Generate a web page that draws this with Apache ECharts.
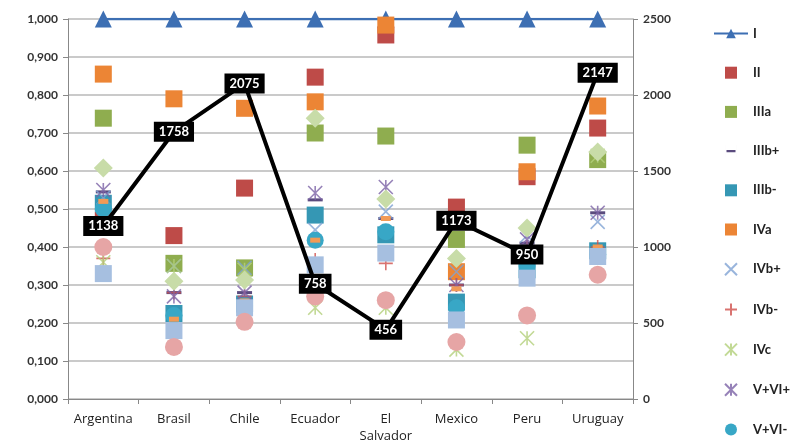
<!DOCTYPE html>
<html>
<head>
<meta charset="utf-8">
<script src="https://cdn.jsdelivr.net/npm/echarts@6/dist/echarts.min.js"></script>
<style>
  html, body { margin: 0; padding: 0; background: #fff; }
  #chart { width: 792px; height: 448px; }
</style>
</head>
<body>
<div id="chart"></div>
<script>
// Countries along the x axis
const countries = ['Argentina', 'Brasil', 'Chile', 'Ecuador', 'El\nSalvador', 'Mexico', 'Peru', 'Uruguay'];

// Class shares (left axis)
const classI    = [1.000, 1.000, 1.000, 1.000, 1.000, 1.000, 1.000, 1.000];
const classII   = [0.470, 0.430, 0.555, 0.847, 0.958, 0.505, 0.585, 0.713];
const classIIIa = [0.739, 0.357, 0.345, 0.700, 0.692, 0.420, 0.668, 0.630];
const classIIIbP = [0.545, 0.280, 0.280, 0.524, 0.475, 0.300, 0.410, 0.490];
const classIIIbM = [0.515, 0.225, 0.250, 0.484, 0.432, 0.255, 0.340, 0.390];
const classIVa  = [0.855, 0.790, 0.765, 0.782, 0.984, 0.335, 0.598, 0.771];
const classIVbP = [0.530, 0.350, 0.345, 0.445, 0.493, 0.335, 0.430, 0.466];
const classIVbM = [0.370, 0.280, 0.270, 0.366, 0.357, 0.300, 0.400, 0.400];
const classIVc  = [0.360, 0.350, 0.340, 0.240, 0.240, 0.130, 0.160, 0.640];
const classVVIP = [0.550, 0.270, 0.280, 0.542, 0.558, 0.300, 0.420, 0.490];
const classVVIM = [0.500, 0.220, 0.245, 0.418, 0.440, 0.240, 0.350, 0.380];
const classVIIa = [0.520, 0.210, 0.258, 0.418, 0.475, 0.290, 0.330, 0.400];
const classVIIb = [0.330, 0.180, 0.240, 0.353, 0.384, 0.208, 0.318, 0.375];
const classVIIc = [0.400, 0.137, 0.203, 0.270, 0.260, 0.150, 0.220, 0.327];
const classVIId = [0.608, 0.310, 0.313, 0.739, 0.526, 0.370, 0.450, 0.650];

// Sample size per country (right axis)
const sampleSize = [1138, 1758, 2075, 758, 456, 1173, 950, 2147];

// Left axis tick labels use a decimal comma
const leftTicks = ['0,000', '0,100', '0,200', '0,300', '0,400', '0,500', '0,600', '0,700', '0,800', '0,900', '1,000'];

const FONT = 'Lato, "Open Sans", sans-serif';

// Line-drawn marker shapes
const SYM_X = 'path://M0,0L10,10M10,0L0,10';
const SYM_PLUS = 'path://M5,0L5,10M0,5L10,5';
const SYM_STAR = 'path://M0,0L10,10M10,0L0,10M5,0L5,10';
// Legend icons: small square, and a short bar inside a square box
const ICON_SQUARE = 'path://M0,0h12v12h-12z';
const ICON_DASH = 'path://M0,0h0.01v12h-0.01zM1.5,5h9v2.2h-9zM11.99,0h0.01v12h-0.01z';

function markSeries(name, data, symbol, size, color, stroked) {
  return {
    name: name,
    type: 'scatter',
    data: data,
    symbol: symbol,
    symbolSize: size,
    itemStyle: stroked
      ? { color: 'rgba(0,0,0,0)', borderColor: color, borderWidth: 1.6 }
      : { color: color, opacity: 1 },
    emphasis: { disabled: true }
  };
}

const series = [
  {
    name: 'I',
    type: 'line',
    data: classI,
    symbol: 'triangle',
    symbolSize: 17,
    lineStyle: { color: '#3d6fb3', width: 2.5 },
    itemStyle: { color: '#3d6fb3' },
    z: 2
  },
  markSeries('II', classII, 'rect', 17, '#be4b48', false),
  markSeries('IIIa', classIIIa, 'rect', 17, '#8fad4f', false),
  markSeries('IIIb+', classIIIbP, 'rect', [15, 3], '#5a4b7e', false),
  markSeries('IIIb-', classIIIbM, 'rect', 17, '#3597b4', false),
  markSeries('IVa', classIVa, 'rect', 17, '#ec8535', false),
  markSeries('IVb+', classIVbP, SYM_X, 14, '#7fa3d3', true),
  markSeries('IVb-', classIVbM, SYM_PLUS, 14, '#d0504c', true),
  markSeries('IVc', classIVc, SYM_STAR, 14, '#b3cf7a', true),
  markSeries('V+VI+', classVVIP, SYM_STAR, 14, '#7c63a6', true),
  markSeries('V+VI-', classVVIM, 'circle', 17, '#38a7c6', false),
  markSeries('VIIa', classVIIa, 'rect', [10, 5], '#f29a56', false),
  markSeries('VIIb', classVIIb, 'rect', 17, '#a6bfe0', false),
  markSeries('VIIc', classVIIc, 'circle', 18, '#e6a5a5', false),
  markSeries('VIId', classVIId, 'diamond', 19, '#c8dca8', false),
  {
    name: 'N',
    type: 'line',
    yAxisIndex: 1,
    data: sampleSize,
    symbol: 'circle',
    symbolSize: 1,
    lineStyle: { color: '#000', width: 4 },
    itemStyle: { color: '#000' },
    z: 10,
    label: {
      show: true,
      position: 'inside',
      color: '#fff',
      backgroundColor: '#000',
      fontFamily: FONT,
      fontWeight: 'bold',
      fontSize: 13,
      padding: [4, 5, 3, 5]
    }
  }
];

const chart = echarts.init(document.getElementById('chart'), null, { renderer: 'canvas' });
chart.setOption({
  animation: false,
  backgroundColor: '#fff',
  grid: { left: 68, right: 159, top: 19, bottom: 49, containLabel: false },
  legend: {
    orient: 'vertical',
    left: 713,
    top: 27,
    height: 520,
    padding: 0,
    itemGap: 26.2,
    itemWidth: 34,
    itemHeight: 12,
    data: [
      { name: 'I' },
      { name: 'II', icon: ICON_SQUARE },
      { name: 'IIIa', icon: ICON_SQUARE },
      { name: 'IIIb+', icon: ICON_DASH },
      { name: 'IIIb-', icon: ICON_SQUARE },
      { name: 'IVa', icon: ICON_SQUARE },
      { name: 'IVb+' }, { name: 'IVb-' },
      { name: 'IVc' }, { name: 'V+VI+' }, { name: 'V+VI-' }
    ],
    textStyle: { fontFamily: FONT, fontSize: 13, lineHeight: 12, color: '#222', fontWeight: 'bold' }
  },
  xAxis: {
    type: 'category',
    data: countries,
    boundaryGap: true,
    axisLine: { lineStyle: { color: '#888', width: 1 } },
    axisTick: { show: true, alignWithLabel: false, length: 5, lineStyle: { color: '#888' } },
    axisLabel: {
      interval: 0,
      fontFamily: '"Liberation Sans Narrow", "Open Sans", sans-serif',
      fontSize: 13, color: '#222', margin: 12, lineHeight: 17
    }
  },
  yAxis: [
    {
      type: 'value',
      min: 0,
      max: 1,
      interval: 0.1,
      axisLine: { show: true, lineStyle: { color: '#888', width: 1 } },
      axisTick: { show: true, length: 5, lineStyle: { color: '#888' } },
      splitLine: { show: true, lineStyle: { color: '#b8b8b8', width: 1.5 } },
      axisLabel: {
        fontFamily: FONT, fontSize: 12, fontWeight: 'bold', color: '#333', margin: 10,
        formatter: function (v) { return leftTicks[Math.round(v * 10)]; }
      }
    },
    {
      type: 'value',
      min: 0,
      max: 2500,
      interval: 500,
      position: 'right',
      axisLine: { show: true, lineStyle: { color: '#888', width: 1 } },
      axisTick: { show: true, length: 5, lineStyle: { color: '#888' } },
      splitLine: { show: false },
      axisLabel: {
        fontFamily: FONT, fontSize: 12, fontWeight: 'bold', color: '#333', margin: 10,
        formatter: function (v) { return String(v); }
      }
    }
  ],
  series: series
});
</script>
</body>
</html>
